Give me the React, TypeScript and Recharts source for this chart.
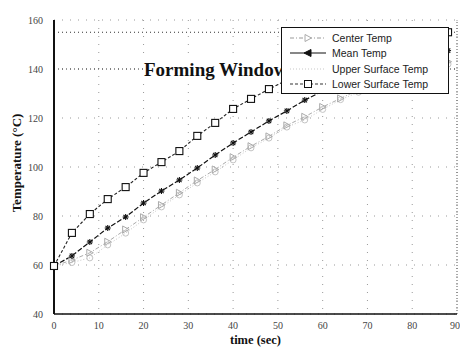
import React from 'react';
import {
  LineChart,
  Line,
  XAxis,
  YAxis,
  CartesianGrid,
  Legend,
  ReferenceLine,
} from 'recharts';

// sample times (sec)
const timeSec = [0, 4, 8, 12, 16, 20, 24, 28, 32, 36, 40, 44, 48, 52, 56, 60, 64, 68, 72, 76, 80, 84, 88];

const centerTemp = [59.6, 62, 65, 69.5, 74.5, 79.5, 84.5, 89.5, 94.5, 99, 104, 108.5, 112.5, 117, 120.5, 124.5, 128, 131.5, 134.5, 137, 139.5, 141.5, 143];
const meanTemp = [59.6, 63.7, 69.4, 75.1, 79.6, 85.3, 90.2, 94.7, 99.6, 104.9, 109.8, 114.3, 118.8, 122.9, 127.3, 131, 134.5, 137.5, 140, 142.5, 144.5, 146, 147.5];
const upperTemp = [59.6, 61, 62.9, 68.2, 73, 78.4, 83.7, 88.6, 93.5, 98, 102.9, 107.8, 111.8, 116.3, 119.2, 123.5, 127.5, 130.5, 133.5, 136, 138.5, 140.5, 142];
const lowerTemp = [59.6, 73.1, 80.8, 86.9, 91.8, 97.6, 102, 106.5, 112.7, 118, 123.7, 127.8, 131.8, 135.5, 139, 142, 144.5, 147, 149, 150.5, 152, 153.5, 155];

const xTicks = [0, 10, 20, 30, 40, 50, 60, 70, 80, 90];
const yTicks = [40, 60, 80, 100, 120, 140, 160];

const windowLow = 140;
const windowHigh = 155;

const rows = timeSec.map((t, i) => ({
  time: t,
  center: centerTemp[i],
  mean: meanTemp[i],
  upper: upperTemp[i],
  lower: lowerTemp[i],
}));

const serif = '"Liberation Serif", "Times New Roman", serif';
const sans = '"Liberation Sans", Arial, sans-serif';

const SquareDot = (props: any) => {
  const { cx, cy } = props;
  if (cx == null || cy == null) return null;
  return <rect x={cx - 3.5} y={cy - 3.5} width={7} height={7} fill="#fff" stroke="#111" strokeWidth={1.1} />;
};

const StarDot = (props: any) => {
  const { cx, cy } = props;
  if (cx == null || cy == null) return null;
  const r = 3;
  return (
    <g stroke="#111" strokeWidth={1.1}>
      <line x1={cx - r} y1={cy} x2={cx + r} y2={cy} />
      <line x1={cx} y1={cy - r} x2={cx} y2={cy + r} />
      <line x1={cx - 2.2} y1={cy - 2.2} x2={cx + 2.2} y2={cy + 2.2} />
      <line x1={cx - 2.2} y1={cy + 2.2} x2={cx + 2.2} y2={cy - 2.2} />
    </g>
  );
};

const TriDot = (props: any) => {
  const { cx, cy } = props;
  if (cx == null || cy == null) return null;
  return (
    <polygon
      points={`${cx - 3},${cy - 3.5} ${cx + 3.5},${cy} ${cx - 3},${cy + 3.5}`}
      fill="none"
      stroke="#aaa"
      strokeWidth={1}
    />
  );
};

const CircleDot = (props: any) => {
  const { cx, cy } = props;
  if (cx == null || cy == null) return null;
  return <circle cx={cx} cy={cy} r={3} fill="none" stroke="#c4c4c4" strokeWidth={1} />;
};

const legendItems = [
  { name: 'Center Temp', stroke: '#999', dash: '4 2 1 2', marker: 'tri' },
  { name: 'Mean Temp', stroke: '#111', dash: undefined, marker: 'arrow' },
  { name: 'Upper Surface Temp', stroke: '#c8c8c8', dash: '1 2', marker: 'none' },
  { name: 'Lower Surface Temp', stroke: '#333', dash: '3 2', marker: 'square' },
];

const LegendBox = () => (
  <div
    style={{
      width: 168,
      height: 67,
      boxSizing: 'border-box',
      border: '1.5px solid #111',
      background: '#fff',
      fontFamily: sans,
      fontSize: 10.5,
      color: '#222',
      padding: '2px 0 0 6px',
    }}
  >
    {legendItems.map((it) => (
      <div key={it.name} style={{ display: 'flex', alignItems: 'center', height: 15.5 }}>
        <svg width={40} height={12} style={{ marginRight: 4 }}>
          <line x1={2} y1={6} x2={38} y2={6} stroke={it.stroke} strokeWidth={1.2} strokeDasharray={it.dash} />
          {it.marker === 'tri' && (
            <polygon points="17,2.5 23.5,6 17,9.5" fill="#fff" stroke="#aaa" />
          )}
          {it.marker === 'arrow' && (
            <polygon points="23,2.5 16,6 23,9.5" fill="#111" stroke="#111" />
          )}
          {it.marker === 'square' && (
            <rect x={16.5} y={2.5} width={7} height={7} fill="#fff" stroke="#111" />
          )}
        </svg>
        <span>{it.name}</span>
      </div>
    ))}
  </div>
);

const TitleLabel = (props: any) => {
  const vb = props.viewBox || {};
  const x = (vb.x ?? 0) + 90;
  const y = (vb.y ?? 0) + 7;
  return (
    <g>
      <rect x={x - 1} y={y - 16} width={160} height={21} fill="#fff" />
      <text x={x} y={y} fontFamily={serif} fontWeight="bold" fontSize={19} fill="#111">
        Forming Window
      </text>
    </g>
  );
};

const YLabel = (props: any) => {
  const vb = props.viewBox || {};
  const cx = 16;
  const cy = (vb.y ?? 0) + (vb.height ?? 0) / 2 - 4;
  return (
    <text
      x={cx}
      y={cy}
      transform={`rotate(-90 ${cx} ${cy})`}
      textAnchor="middle"
      dominantBaseline="central"
      fontFamily={serif}
      fontWeight="bold"
      fontSize={13}
      fill="#111"
    >
      Temperature (°C)
    </text>
  );
};

const XLabel = (props: any) => {
  const vb = props.viewBox || {};
  const cx = (vb.x ?? 0) + (vb.width ?? 0) / 2;
  return (
    <text x={cx} y={344} textAnchor="middle" fontFamily={serif} fontWeight="bold" fontSize={12.5} fill="#111">
      time (sec)
    </text>
  );
};

const tickStyle = { fontFamily: serif, fontSize: 10, fill: '#444' };

export default function App() {
  return (
    <div style={{ position: 'absolute', left: 0, top: 0, width: 460, height: 347, background: '#fff' }}>
      <LineChart width={460} height={347} data={rows} margin={{ top: 20, right: 3, bottom: 13, left: 0 }}>
        <CartesianGrid stroke="#999" strokeDasharray="1 7" />
        <XAxis
          type="number"
          dataKey="time"
          domain={[0, 90]}
          ticks={xTicks}
          height={20}
          tick={tickStyle}
          tickLine={false}
          tickMargin={2}
          axisLine={{ stroke: '#111', strokeWidth: 1.5 }}
          label={<XLabel />}
        />
        <YAxis
          type="number"
          domain={[40, 160]}
          ticks={yTicks}
          width={54}
          tick={tickStyle}
          tickLine={false}
          tickMargin={5}
          axisLine={{ stroke: '#111', strokeWidth: 2 }}
          label={<YLabel />}
        />
        <ReferenceLine x={90} stroke="#555" strokeDasharray="1 2" />
        <ReferenceLine y={windowHigh} stroke="#333" strokeDasharray="1 3" />
        <ReferenceLine y={windowLow} stroke="#333" strokeDasharray="1 3" label={<TitleLabel />} />
        <Line
          dataKey="upper"
          stroke="#c8c8c8"
          strokeDasharray="1 2"
          strokeWidth={1}
          dot={<CircleDot />}
          isAnimationActive={false}
        />
        <Line
          dataKey="center"
          stroke="#aaa"
          strokeDasharray="4 2 1 2"
          strokeWidth={1}
          dot={<TriDot />}
          isAnimationActive={false}
        />
        <Line
          dataKey="mean"
          stroke="#111"
          strokeDasharray="5 2"
          strokeWidth={1.2}
          dot={<StarDot />}
          isAnimationActive={false}
        />
        <Line
          dataKey="lower"
          stroke="#222"
          strokeDasharray="3 2"
          strokeWidth={1.1}
          dot={<SquareDot />}
          isAnimationActive={false}
        />
        <Legend
          layout="horizontal"
          verticalAlign="middle"
          align="center"
          content={<LegendBox />}
          wrapperStyle={{ position: 'absolute', left: 281, top: 27, width: 168, height: 67 }}
        />
      </LineChart>
    </div>
  );
}
